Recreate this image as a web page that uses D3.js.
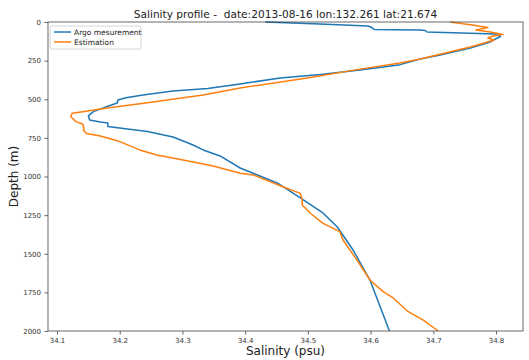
<!DOCTYPE html>
<html>
<head>
<meta charset="utf-8">
<script src="https://cdn.jsdelivr.net/npm/d3@7"></script>
<style>
  body { margin: 0; background: #fff; }
  svg { font-family: "DejaVu Sans", sans-serif; }
</style>
</head>
<body>
<svg width="529" height="360"></svg>
<script>
// Argo profile: [salinity, depth]
const argoSal = [34.432, 34.519, 34.596, 34.602, 34.606, 34.679, 34.687, 34.69, 34.799, 34.807, 34.799, 34.791,
  34.759, 34.711, 34.679, 34.647, 34.583, 34.52, 34.456, 34.392, 34.34, 34.285, 34.237, 34.21, 34.197, 34.196,
  34.18, 34.158, 34.15, 34.152, 34.169, 34.181, 34.181, 34.2, 34.244, 34.285, 34.317, 34.333, 34.36, 34.392, 34.451,
  34.488, 34.524, 34.547, 34.572, 34.599, 34.63];
const argoDepth = [0, 13, 26, 36, 49, 52, 55, 65, 78, 94, 110, 129,
  168, 214, 240, 276, 311, 340, 362, 401, 430, 447, 472, 490, 505, 524,
  547, 580, 608, 634, 647, 654, 676, 686, 709, 744, 796, 828, 867, 945, 1042,
  1139, 1236, 1327, 1476, 1670, 2000];

const estSal = [34.727, 34.762, 34.787, 34.768, 34.791, 34.811, 34.795, 34.787, 34.797, 34.781, 34.759, 34.719,
  34.679, 34.647, 34.583, 34.499, 34.392, 34.333, 34.244, 34.18, 34.141, 34.124, 34.122, 34.13,
  34.141, 34.143, 34.142, 34.147, 34.169, 34.196, 34.232, 34.259, 34.301, 34.349, 34.392, 34.413, 34.46, 34.488,
  34.491, 34.491, 34.504, 34.524, 34.551, 34.556, 34.578, 34.599, 34.62, 34.636, 34.66, 34.684, 34.708];
const estDepth = [0, 19, 36, 52, 65, 81, 91, 104, 117, 136, 162, 201,
  240, 265, 305, 362, 427, 472, 522, 557, 581, 591, 613, 645,
  660, 688, 699, 721, 738, 768, 828, 861, 893, 932, 979, 990, 1066, 1109,
  1152, 1184, 1238, 1303, 1357, 1411, 1540, 1670, 1745, 1786, 1875, 1929, 2000];

const xTicks = [34.1, 34.2, 34.3, 34.4, 34.5, 34.6, 34.7, 34.8];
const yTicks = [0, 250, 500, 750, 1000, 1250, 1500, 1750, 2000];
const seriesNames = ["Argo mesurement", "Estimation"];
const colors = ["#1f77b4", "#ff7f0e"];

const svg = d3.select("svg");
const margin = {left: 48, right: 6, top: 22, bottom: 29};
const width = +svg.attr("width"), height = +svg.attr("height");

const x = d3.scaleLinear().domain([34.0856, 34.843]).range([margin.left, width - margin.right]);
const y = d3.scaleLinear().domain([0, 2000]).range([margin.top, height - margin.bottom]);

const argo = argoSal.map((s, i) => [s, argoDepth[i]]);
const est = estSal.map((s, i) => [s, estDepth[i]]);

const line = d3.line().x(d => x(d[0])).y(d => y(d[1]));

svg.append("g").selectAll("path")
  .data([argo, est]).enter().append("path")
    .attr("d", line)
    .attr("fill", "none")
    .attr("stroke", (d, i) => colors[i])
    .attr("stroke-width", 1.5)
    .attr("stroke-linejoin", "round");

// frame
svg.append("rect")
  .attr("x", margin.left).attr("y", margin.top)
  .attr("width", width - margin.left - margin.right)
  .attr("height", height - margin.top - margin.bottom)
  .attr("fill", "none").attr("stroke", "#444").attr("stroke-width", 0.8);

const xAxis = svg.append("g")
  .attr("transform", `translate(0,${height - margin.bottom})`)
  .call(d3.axisBottom(x).tickValues(xTicks).tickFormat(d3.format(".1f")).tickSize(3.5).tickPadding(3.5));
const yAxis = svg.append("g")
  .attr("transform", `translate(${margin.left},0)`)
  .call(d3.axisLeft(y).tickValues(yTicks).tickFormat(d3.format("d")).tickSize(3.5).tickPadding(3.5));
[xAxis, yAxis].forEach(a => {
  a.select(".domain").remove();
  a.selectAll("line").attr("stroke", "#444").attr("stroke-width", 0.8);
  a.selectAll("text").attr("fill", "#333").style("font-size", "7px")
    .style("font-family", "DejaVu Sans, sans-serif");
});

svg.append("text")
  .attr("x", (margin.left + width - margin.right) / 2).attr("y", 18)
  .attr("text-anchor", "middle").style("font-size", "10.6px").style("white-space", "pre")
  .attr("fill", "#222")
  .text("Salinity profile -  date:2013-08-16 lon:132.261 lat:21.674");

svg.append("text")
  .attr("x", (margin.left + width - margin.right) / 2).attr("y", 355)
  .attr("text-anchor", "middle").style("font-size", "12px").attr("fill", "#222")
  .text("Salinity (psu)");

svg.append("text")
  .attr("transform", `translate(18,${(margin.top + height - margin.bottom) / 2}) rotate(-90)`)
  .attr("text-anchor", "middle").style("font-size", "12px").attr("fill", "#222")
  .text("Depth (m)");

// legend
const legend = svg.append("g").attr("transform", "translate(50,26)");
legend.append("rect")
  .attr("width", 91).attr("height", 23).attr("rx", 2)
  .attr("fill", "#fff").attr("fill-opacity", 0.8)
  .attr("stroke", "#ccc").attr("stroke-width", 0.8);
const items = legend.selectAll("g.item").data(seriesNames).enter().append("g")
  .attr("class", "item")
  .attr("transform", (d, i) => `translate(0,${6 + i * 10})`);
items.append("line")
  .attr("x1", 4).attr("x2", 21)
  .attr("stroke", (d, i) => colors[i]).attr("stroke-width", 1.5);
items.append("text")
  .attr("x", 24).attr("dy", "0.35em")
  .style("font-size", "7.5px").attr("fill", "#222")
  .text(d => d);
</script>
</body>
</html>
